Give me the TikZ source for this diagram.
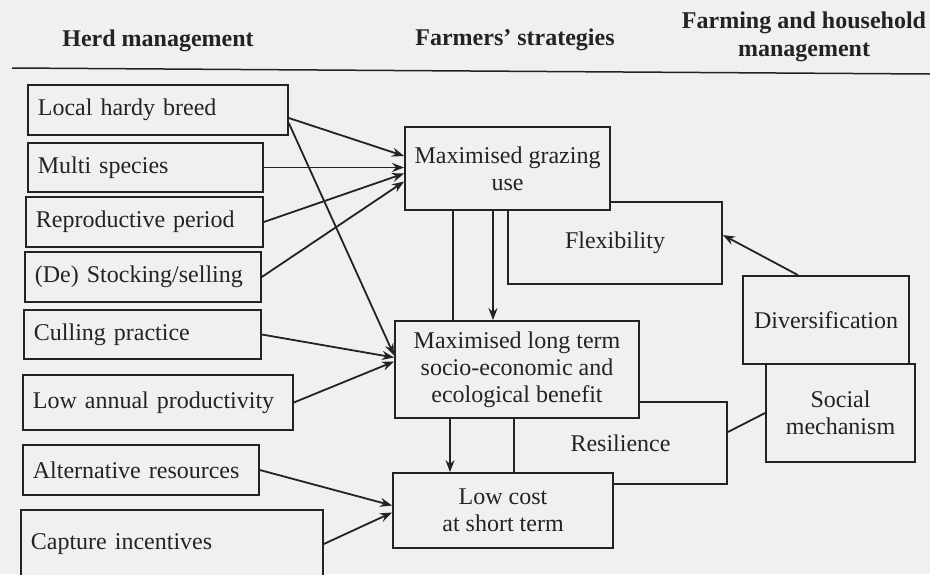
\documentclass[tikz,border=0pt]{standalone}
\usepackage{fontspec}
\setmainfont{Liberation Serif}
\usetikzlibrary{arrows.meta, positioning, calc}
\definecolor{ink}{RGB}{35,35,35}
\definecolor{paper}{RGB}{240,240,240}

\begin{document}
\begin{tikzpicture}[x=1pt, y=-1pt]
    \tikzstyle{herd} = [draw=ink, fill=paper, line width=1.8pt, anchor=west, align=left, inner xsep=10pt, inner ysep=0pt, text=ink, font=\fontsize{24}{27}\selectfont]
    \tikzstyle{strategy} = [draw=ink, fill=paper, line width=1.8pt, align=center, inner sep=0pt, text=ink, font=\fontsize{24}{27}\selectfont]
    \tikzstyle{heading} = [align=center, text=ink, font=\fontsize{24}{28}\selectfont\bfseries]
    \tikzstyle{edge} = [draw=ink, line width=1.8pt]
    \tikzstyle{arrow} = [edge, -{Stealth[length=12pt, width=9pt]}]

    \fill[paper] (0,0) rectangle (930,574);
    \useasboundingbox (0,0) rectangle (930,574);
    \clip (0,0) rectangle (930,574);

    \node[heading] (t1) at (158,41) {Herd management};
    \node[heading] (t2) at (515,40) {Farmers’ strategies};
    \node[heading] (t3) at (804,37) {Farming and household\\management};
    \draw[edge, line width=1.5pt] (12,68) -- (930,74);

    \node[herd, text width=240pt, minimum height=50pt] (h1) at (27,110) {Local hardy breed};
    \node[herd, text width=215pt, minimum height=49pt] (h2) at (27,167.5) {Multi species};
    \node[herd, text width=217pt, minimum height=50pt] (h3) at (25,222) {Reproductive period};
    \node[herd, text width=216pt, minimum height=50pt] (h4) at (24,277) {(De) Stocking/selling};
    \node[herd, text width=217pt, minimum height=49pt] (h5) at (23,334.5) {Culling practice};
    \node[herd, text width=250pt, minimum height=55pt] (h6) at (22,402.5) {Low annual productivity};
    \node[herd, text width=216pt, minimum height=50pt] (h7) at (22,470) {Alternative resources};
    \node[herd, text width=282pt, minimum height=68pt] (h8) at (20,544) {Capture incentives};

    \node[strategy, minimum width=214pt, minimum height=82pt] (fx) at (615,243) {Flexibility};
    \node[strategy, minimum width=205pt, minimum height=83pt] (st1) at (507.5,168.5) {Maximised grazing\\use};
    \node[strategy, minimum width=213pt, minimum height=82pt] (rs) at (620.5,443) {Resilience};
    \node[strategy, minimum width=244pt, minimum height=97pt] (st2) at (517,369.5) {Maximised long term\\socio-economic and\\ecological benefit};
    \node[strategy, minimum width=220pt, minimum height=75pt] (st3) at (503,510.5) {Low cost\\at short term};
    \node[strategy, minimum width=166pt, minimum height=88pt] (dv) at (826,320) {Diversification};
    \node[strategy, minimum width=149pt, minimum height=98pt] (sm) at (840.5,413) {Social\\mechanism};

    \draw[arrow] ([yshift=-8pt]h1.east) -- ([yshift=12.5pt]st1.west);
    \draw[arrow] ([yshift=-13pt]h1.east) -- ([yshift=14pt]st2.west);
    \draw[arrow] (h2.east) -- (h2.east -| st1.west);
    \draw[arrow] (h3.east) -- ([yshift=-5pt]st1.west);
    \draw[arrow] (h4.east) -- ([yshift=-13pt]st1.west);
    \draw[arrow] (h5.east) -- ([yshift=12pt]st2.west);
    \draw[arrow] (h6.east) -- ([yshift=8pt]st2.west);
    \draw[arrow] (h7.east) -- ([yshift=5pt]st3.west);
    \draw[arrow] (h8.east) -- ([yshift=-2pt]st3.west);
    \draw[edge] ([xshift=-54.5pt]st1.south) -- ([xshift=-54.5pt]st1.south |- st2.north);
    \draw[arrow] ([xshift=-14.5pt]st1.south) -- ([xshift=-14.5pt]st1.south |- st2.north);
    \draw[arrow] ([xshift=-67pt]st2.south) -- ([xshift=-67pt]st2.south |- st3.north);
    \draw[arrow] ([xshift=-28pt]dv.north) -- ([yshift=8pt]fx.east);
    \draw[edge] (sm.west) -- ([yshift=11pt]rs.east);
\end{tikzpicture}
\end{document}
